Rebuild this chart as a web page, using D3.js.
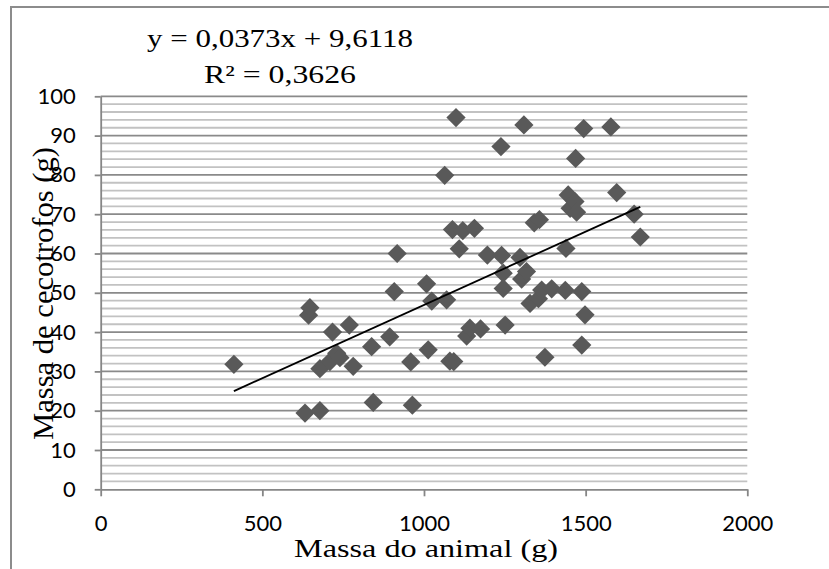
<!DOCTYPE html>
<html>
<head>
<meta charset="utf-8">
<script src="https://cdn.jsdelivr.net/npm/d3@7"></script>
<style>
  html, body { margin: 0; padding: 0; background: #fff; }
  svg { display: block; }
</style>
</head>
<body>
<svg id="chart" width="829" height="569"></svg>
<script>
// ---- data ----
const massaAnimal = [412, 632, 678, 643, 647, 717, 769, 678, 709, 730, 740, 781, 838, 843, 894, 908, 917, 959, 964,
  1008, 1013, 1024, 1064, 1070, 1080, 1092, 1088, 1099, 1109, 1120, 1132, 1142, 1156, 1175, 1196, 1238, 1240,
  1245, 1245, 1251, 1297, 1302, 1309, 1317, 1328, 1341, 1354, 1357, 1364, 1374, 1395, 1437, 1439, 1446, 1452,
  1467, 1469, 1472, 1488, 1488, 1494, 1498, 1578, 1596, 1650, 1669];
const massaCecotrofos = [31.8, 19.4, 20.0, 44.3, 46.2, 40.0, 41.8, 30.7, 32.5, 34.6, 33.5, 31.3, 36.3, 22.1, 38.8, 50.3, 60.0, 32.4, 21.4,
  52.3, 35.5, 47.9, 79.9, 48.2, 32.6, 32.5, 66.1, 94.6, 61.2, 65.8, 39.0, 41.0, 66.4, 40.8, 59.6, 87.2, 59.5,
  55.0, 51.1, 41.8, 59.0, 53.5, 92.7, 55.4, 47.3, 67.8, 48.5, 68.6, 50.7, 33.6, 51.0, 50.6, 61.3, 74.9, 71.5,
  73.2, 84.2, 70.5, 50.3, 36.7, 91.8, 44.4, 92.2, 75.5, 70.0, 64.2];
const trendSlope = 0.0373;
const trendIntercept = 9.6118;
const equationLabel = "y = 0,0373x + 9,6118";
const r2Label = "R² = 0,3626";
const xTicks = [0, 500, 1000, 1500, 2000];
const yTicks = [0, 10, 20, 30, 40, 50, 60, 70, 80, 90, 100];
const yMinorTicks = d3.range(0, 101, 2).filter(v => v % 10 !== 0);
const xTitle = "Massa do animal (g)";
const yTitle = "Massa de cecotrofos (g)";

// ---- drawing ----
const svg = d3.select("#chart");
const x = d3.scaleLinear().domain([0, 2000]).range([100.7, 747.3]);
const y = d3.scaleLinear().domain([0, 100]).range([489.3, 96.3]);

const axisGray = "#868686";

// chart border (extends beyond the visible window on right/bottom)
svg.append("rect")
  .attr("x", 11).attr("y", 7).attr("width", 900).attr("height", 700)
  .attr("fill", "none").attr("stroke", "#8c8c8c").attr("stroke-width", 2);

// minor gridlines
svg.append("g").selectAll("line").data(yMinorTicks).join("line")
  .attr("x1", x(0)).attr("x2", x(2000))
  .attr("y1", d => y(d)).attr("y2", d => y(d))
  .attr("stroke", "#c2c2c2").attr("stroke-width", 1.8);

// major gridlines
svg.append("g").selectAll("line").data(yTicks.filter(d => d > 0)).join("line")
  .attr("x1", x(0)).attr("x2", x(2000))
  .attr("y1", d => y(d)).attr("y2", d => y(d))
  .attr("stroke", "#8a8a8a").attr("stroke-width", 1.8);

// y axis
const gy = svg.append("g").attr("transform", `translate(${x(0)},0)`)
  .call(d3.axisLeft(y).tickValues(yTicks).tickSize(6).tickSizeOuter(0).tickPadding(19).tickFormat(d3.format("d")));
// x axis
const gx = svg.append("g").attr("transform", `translate(0,${y(0)})`)
  .call(d3.axisBottom(x).tickValues(xTicks).tickSize(7).tickSizeOuter(0).tickPadding(19).tickFormat(d3.format("d")));

[gx, gy].forEach(g => {
  g.select(".domain").attr("stroke", axisGray).attr("stroke-width", 1.8);
  g.selectAll(".tick line").attr("stroke", axisGray).attr("stroke-width", 1.8);
  g.selectAll(".tick text").attr("fill", "#000")
    .style("font-family", "Lato, 'Open Sans', sans-serif").style("font-size", "22px");
});

// points
const pts = massaAnimal.map((v, i) => [v, massaCecotrofos[i]]);
const diamond = d3.symbol().type(d3.symbolSquare).size(185);
svg.append("g").selectAll("path").data(pts).join("path")
  .attr("d", diamond)
  .attr("transform", d => `translate(${x(d[0])},${y(d[1])}) rotate(45)`)
  .attr("fill", "#595959");

// trend line
const xMin = d3.min(massaAnimal), xMax = d3.max(massaAnimal);
svg.append("line")
  .attr("x1", x(xMin)).attr("y1", y(trendSlope * xMin + trendIntercept))
  .attr("x2", x(xMax)).attr("y2", y(trendSlope * xMax + trendIntercept))
  .attr("stroke", "#000").attr("stroke-width", 1.8);

// equation labels
const serif = "'Liberation Serif', 'Times New Roman', serif";
svg.append("text").attr("x", 280).attr("y", 47).attr("text-anchor", "middle")
  .attr("textLength", 266).attr("lengthAdjust", "spacingAndGlyphs")
  .style("font-family", serif).style("font-size", "25px").text(equationLabel);
svg.append("text").attr("x", 280).attr("y", 83).attr("text-anchor", "middle")
  .attr("textLength", 152).attr("lengthAdjust", "spacingAndGlyphs")
  .style("font-family", serif).style("font-size", "25px").text(r2Label);

// axis titles
svg.append("text").attr("x", 426).attr("y", 557).attr("text-anchor", "middle")
  .attr("textLength", 264).attr("lengthAdjust", "spacingAndGlyphs")
  .style("font-family", serif).style("font-size", "25px").text(xTitle);
svg.append("text").attr("transform", "translate(53,293.5) rotate(-90)").attr("text-anchor", "middle")
  .attr("textLength", 293).attr("lengthAdjust", "spacingAndGlyphs")
  .style("font-family", serif).style("font-size", "30px").text(yTitle);
</script>
</body>
</html>
